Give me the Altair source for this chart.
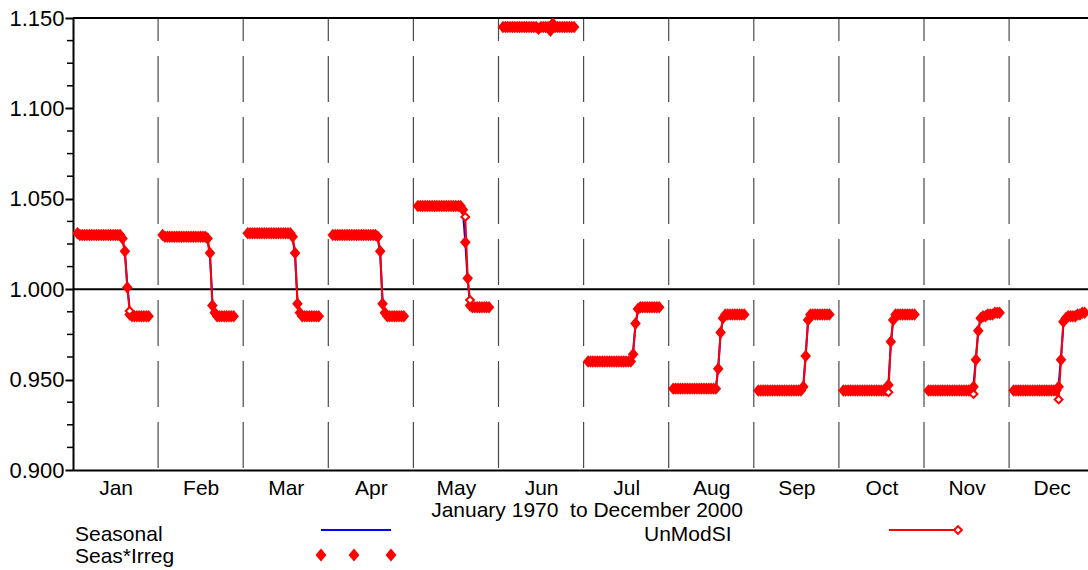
import altair as alt
import pandas as pd

MONTHS = ["Jan", "Feb", "Mar", "Apr", "May", "Jun", "Jul", "Aug", "Sep", "Oct", "Nov", "Dec"]
YEARS = list(range(1970, 2001))

# Seas*Irreg (SI) values, one per year 1970..2000, for each month
si_jan = [1.031, 1.030, 1.030, 1.030, 1.030, 1.030, 1.030, 1.030, 1.030, 1.030,
          1.030, 1.030, 1.030, 1.030, 1.030, 1.030, 1.030, 1.030, 1.030, 1.028,
          1.021, 1.001, 0.986, 0.985, 0.985, 0.985, 0.985, 0.985, 0.985, 0.985,
          0.985]
si_feb = [1.030, 1.029, 1.029, 1.029, 1.029, 1.029, 1.029, 1.029, 1.029, 1.029,
          1.029, 1.029, 1.029, 1.029, 1.029, 1.029, 1.029, 1.029, 1.029, 1.028,
          1.020, 0.991, 0.987, 0.985, 0.985, 0.985, 0.985, 0.985, 0.985, 0.985,
          0.985]
si_mar = [1.031, 1.031, 1.031, 1.031, 1.031, 1.031, 1.031, 1.031, 1.031, 1.031,
          1.031, 1.031, 1.031, 1.031, 1.031, 1.031, 1.031, 1.031, 1.031, 1.029,
          1.020, 0.992, 0.987, 0.985, 0.985, 0.985, 0.985, 0.985, 0.985, 0.985,
          0.985]
si_apr = [1.030, 1.030, 1.030, 1.030, 1.030, 1.030, 1.030, 1.030, 1.030, 1.030,
          1.030, 1.030, 1.030, 1.030, 1.030, 1.030, 1.030, 1.030, 1.030, 1.029,
          1.021, 0.992, 0.987, 0.985, 0.985, 0.985, 0.985, 0.985, 0.985, 0.985,
          0.985]
si_may = [1.046, 1.046, 1.046, 1.046, 1.046, 1.046, 1.046, 1.046, 1.046, 1.046,
          1.046, 1.046, 1.046, 1.046, 1.046, 1.046, 1.046, 1.046, 1.046, 1.044,
          1.026, 1.006, 0.991, 0.990, 0.990, 0.990, 0.990, 0.990, 0.990, 0.990,
          0.990]
si_jun = [1.145, 1.145, 1.145, 1.145, 1.145, 1.145, 1.145, 1.145, 1.145, 1.145,
          1.145, 1.145, 1.145, 1.145, 1.145, 1.144, 1.145, 1.145, 1.145, 1.145,
          1.143, 1.147, 1.145, 1.145, 1.145, 1.145, 1.145, 1.145, 1.145, 1.145,
          1.145]
si_jul = [0.960, 0.960, 0.960, 0.960, 0.960, 0.960, 0.960, 0.960, 0.960, 0.960,
          0.960, 0.960, 0.960, 0.960, 0.960, 0.960, 0.960, 0.960, 0.960, 0.964,
          0.981, 0.989, 0.990, 0.990, 0.990, 0.990, 0.990, 0.990, 0.990, 0.990,
          0.990]
si_aug = [0.945, 0.945, 0.945, 0.945, 0.945, 0.945, 0.945, 0.945, 0.945, 0.945,
          0.945, 0.945, 0.945, 0.945, 0.945, 0.945, 0.945, 0.945, 0.945, 0.956,
          0.976, 0.984, 0.986, 0.986, 0.986, 0.986, 0.986, 0.986, 0.986, 0.986,
          0.986]
si_sep = [0.944, 0.944, 0.944, 0.944, 0.944, 0.944, 0.944, 0.944, 0.944, 0.944,
          0.944, 0.944, 0.944, 0.944, 0.944, 0.944, 0.944, 0.944, 0.944, 0.946,
          0.963, 0.983, 0.986, 0.986, 0.986, 0.986, 0.986, 0.986, 0.986, 0.986,
          0.986]
si_oct = [0.944, 0.944, 0.944, 0.944, 0.944, 0.944, 0.944, 0.944, 0.944, 0.944,
          0.944, 0.944, 0.944, 0.944, 0.944, 0.944, 0.944, 0.944, 0.944, 0.947,
          0.971, 0.983, 0.986, 0.986, 0.986, 0.986, 0.986, 0.986, 0.986, 0.986,
          0.986]
si_nov = [0.944, 0.944, 0.944, 0.944, 0.944, 0.944, 0.944, 0.944, 0.944, 0.944,
          0.944, 0.944, 0.944, 0.944, 0.944, 0.944, 0.944, 0.944, 0.944, 0.946,
          0.961, 0.977, 0.984, 0.985, 0.985, 0.986, 0.986, 0.986, 0.987, 0.987,
          0.987]
si_dec = [0.944, 0.944, 0.944, 0.944, 0.944, 0.944, 0.944, 0.944, 0.944, 0.944,
          0.944, 0.944, 0.944, 0.944, 0.944, 0.944, 0.944, 0.944, 0.944, 0.946,
          0.961, 0.982, 0.984, 0.985, 0.985, 0.985, 0.985, 0.986, 0.986, 0.987,
          0.987]

# Seasonal factors
sf_jan = [1.030, 1.030, 1.030, 1.030, 1.030, 1.030, 1.030, 1.030, 1.030, 1.030,
          1.030, 1.030, 1.030, 1.030, 1.030, 1.030, 1.030, 1.030, 1.030, 1.028,
          1.020, 1.003, 0.989, 0.985, 0.985, 0.985, 0.985, 0.985, 0.985, 0.985,
          0.985]
sf_feb = [1.029, 1.029, 1.029, 1.029, 1.029, 1.029, 1.029, 1.029, 1.029, 1.029,
          1.029, 1.029, 1.029, 1.029, 1.029, 1.029, 1.029, 1.029, 1.029, 1.027,
          1.018, 0.994, 0.987, 0.985, 0.985, 0.985, 0.985, 0.985, 0.985, 0.985,
          0.985]
sf_mar = [1.031, 1.031, 1.031, 1.031, 1.031, 1.031, 1.031, 1.031, 1.031, 1.031,
          1.031, 1.031, 1.031, 1.031, 1.031, 1.031, 1.031, 1.031, 1.031, 1.028,
          1.018, 0.994, 0.987, 0.985, 0.985, 0.985, 0.985, 0.985, 0.985, 0.985,
          0.985]
sf_apr = [1.030, 1.030, 1.030, 1.030, 1.030, 1.030, 1.030, 1.030, 1.030, 1.030,
          1.030, 1.030, 1.030, 1.030, 1.030, 1.030, 1.030, 1.030, 1.030, 1.028,
          1.019, 0.994, 0.987, 0.985, 0.985, 0.985, 0.985, 0.985, 0.985, 0.985,
          0.985]
sf_may = [1.046, 1.046, 1.046, 1.046, 1.046, 1.046, 1.046, 1.046, 1.046, 1.046,
          1.046, 1.046, 1.046, 1.046, 1.046, 1.046, 1.046, 1.046, 1.046, 1.043,
          1.026, 1.005, 0.992, 0.990, 0.990, 0.990, 0.990, 0.990, 0.990, 0.990,
          0.990]
sf_jun = [1.145, 1.145, 1.145, 1.145, 1.145, 1.145, 1.145, 1.145, 1.145, 1.145,
          1.145, 1.145, 1.145, 1.145, 1.145, 1.145, 1.145, 1.145, 1.145, 1.145,
          1.145, 1.145, 1.145, 1.145, 1.145, 1.145, 1.145, 1.145, 1.145, 1.145,
          1.145]
sf_jul = [0.960, 0.960, 0.960, 0.960, 0.960, 0.960, 0.960, 0.960, 0.960, 0.960,
          0.960, 0.960, 0.960, 0.960, 0.960, 0.960, 0.960, 0.960, 0.960, 0.966,
          0.980, 0.988, 0.990, 0.990, 0.990, 0.990, 0.990, 0.990, 0.990, 0.990,
          0.990]
sf_aug = [0.945, 0.945, 0.945, 0.945, 0.945, 0.945, 0.945, 0.945, 0.945, 0.945,
          0.945, 0.945, 0.945, 0.945, 0.945, 0.945, 0.945, 0.945, 0.945, 0.957,
          0.975, 0.984, 0.986, 0.986, 0.986, 0.986, 0.986, 0.986, 0.986, 0.986,
          0.986]
sf_sep = [0.944, 0.944, 0.944, 0.944, 0.944, 0.944, 0.944, 0.944, 0.944, 0.944,
          0.944, 0.944, 0.944, 0.944, 0.944, 0.944, 0.944, 0.944, 0.944, 0.947,
          0.964, 0.982, 0.986, 0.986, 0.986, 0.986, 0.986, 0.986, 0.986, 0.986,
          0.986]
sf_oct = [0.944, 0.944, 0.944, 0.944, 0.944, 0.944, 0.944, 0.944, 0.944, 0.944,
          0.944, 0.944, 0.944, 0.944, 0.944, 0.944, 0.944, 0.944, 0.944, 0.948,
          0.969, 0.983, 0.986, 0.986, 0.986, 0.986, 0.986, 0.986, 0.986, 0.986,
          0.986]
sf_nov = [0.944, 0.944, 0.944, 0.944, 0.944, 0.944, 0.944, 0.944, 0.944, 0.944,
          0.944, 0.944, 0.944, 0.944, 0.944, 0.944, 0.944, 0.944, 0.944, 0.947,
          0.962, 0.977, 0.984, 0.985, 0.985, 0.986, 0.986, 0.986, 0.987, 0.987,
          0.987]
sf_dec = [0.944, 0.944, 0.944, 0.944, 0.944, 0.944, 0.944, 0.944, 0.944, 0.944,
          0.944, 0.944, 0.944, 0.944, 0.944, 0.944, 0.944, 0.944, 0.944, 0.947,
          0.962, 0.980, 0.984, 0.985, 0.985, 0.985, 0.985, 0.986, 0.986, 0.987,
          0.987]

# Unmodified SI values where they differ from the (modified) SI
unmod_month = ["Jan", "May", "May", "Oct", "Nov", "Dec"]
unmod_year = [1992, 1990, 1992, 1989, 1989, 1989]
unmod_value = [0.988, 1.040, 0.994, 0.943, 0.942, 0.939]

Y_TICKS = [0.900, 0.950, 1.000, 1.050, 1.100, 1.150]
Y_MINOR = [0.9125, 0.925, 0.9375, 0.9625, 0.975, 0.9875, 1.0125, 1.025, 1.0375,
           1.0625, 1.075, 1.0875, 1.1125, 1.125, 1.1375]

si_all = [si_jan, si_feb, si_mar, si_apr, si_may, si_jun,
          si_jul, si_aug, si_sep, si_oct, si_nov, si_dec]
sf_all = [sf_jan, sf_feb, sf_mar, sf_apr, sf_may, sf_jun,
          sf_jul, sf_aug, sf_sep, sf_oct, sf_nov, sf_dec]

# ---- build table ----
PANEL_PX = 85.1
rows = []
unmod_lookup = {(m, y): v for m, y, v in zip(unmod_month, unmod_year, unmod_value)}
for mi, mname in enumerate(MONTHS):
    for yi, yr in enumerate(YEARS):
        si_v = si_all[mi][yi]
        um = unmod_lookup.get((mname, yr), si_v)
        rows.append({
            "month": mname,
            "year": yr,
            "pos": mi + (4.5 + yi * 2.37) / PANEL_PX,
            "si": si_v,
            "sf": sf_all[mi][yi],
            "unmod": um,
            "changed": um != si_v,
        })
df = pd.DataFrame(rows)
df_open = df[df["changed"]]

W, H = 1015, 452
FONT = "Liberation Sans"
x_scale = alt.Scale(domain=[0, W / PANEL_PX], nice=False, zero=False)
y_scale = alt.Scale(domain=[0.9, 1.15], nice=False, zero=False)

label_expr = "[" + ",".join("'" + m + "'" for m in MONTHS) + "][floor(datum.value)]"
x_axis = alt.Axis(values=[i + 0.5 for i in range(12)], labelExpr=label_expr, title=None,
                  ticks=False, tickSize=0, domainColor="black", domainWidth=2, grid=False,
                  labelFont=FONT, labelFontSize=21, labelColor="black", labelPadding=24,
                  labelBaseline="alphabetic", labelAlign="center", labelFlush=False,
                  labelOverlap=False)
y_axis = alt.Axis(values=Y_TICKS, format=".3f", title=None, tickSize=8, tickWidth=2,
                  tickColor="black", domainColor="black", domainWidth=2, grid=False,
                  labelFont=FONT, labelFontSize=22, labelColor="black", labelPadding=1,
                  labelFlush=False, labelOverlap=False)

X = lambda f: alt.X(f, type="quantitative", scale=x_scale, axis=x_axis)
Y = lambda f: alt.Y(f, type="quantitative", scale=y_scale, axis=y_axis)

bounds = pd.DataFrame({"b": list(range(1, 12)), "top": [1.15] * 11, "bot": [0.9] * 11})
vlines = alt.Chart(bounds).mark_rule(color="#4a4a4a", strokeWidth=1.2,
                                     strokeDash=[46, 15], strokeDashOffset=23).encode(
    x=X("b"), y=Y("top"), y2="bot")

hl = pd.DataFrame({"v": [1.0, 1.15]})
hlines = alt.Chart(hl).mark_rule(color="black", strokeWidth=2).encode(y=Y("v"))

minor = pd.DataFrame({"v": Y_MINOR})
minor_ticks = alt.Chart(minor).mark_rule(color="black", strokeWidth=1.5).encode(
    y=Y("v"), x=alt.value(-6), x2=alt.value(0))

seasonal = alt.Chart(df).mark_line(color="#0000FF", strokeWidth=2, clip=True).encode(
    x=X("pos"), y=Y("sf"), detail="month:N")
unmod_line = alt.Chart(df).mark_line(color="#FF0000", strokeWidth=2, clip=True).encode(
    x=X("pos"), y=Y("unmod"), detail="month:N")
DIAMOND = "M-0.85,0L0,-1L0.85,0L0,1Z"
si_pts = alt.Chart(df).mark_point(shape=DIAMOND, size=155, filled=True, color="#FF0000",
                                  opacity=1, clip=True).encode(x=X("pos"), y=Y("si"))
open_pts = alt.Chart(df_open).mark_point(shape="diamond", size=60, filled=True, fill="white",
                                         stroke="#FF0000", strokeWidth=2, opacity=1,
                                         clip=True).encode(x=X("pos"), y=Y("unmod"))

one = pd.DataFrame({"k": [0]})
def txt(s, x, y, align="left", size=21):
    return alt.Chart(one).mark_text(text=s, font=FONT, fontSize=size, color="black",
                                    align=align, baseline="alphabetic").encode(
        x=alt.value(x), y=alt.value(y))

title_t = txt("January 1970\u00a0 to December 2000", 514, 499, align="center", size=21)
leg1 = txt("Seasonal", 2, 523)
leg2 = txt("Seas*Irreg", 2, 545)
leg3 = txt("UnModSI", 571, 523)
leg_blue = alt.Chart(one).mark_rule(color="#0000FF", strokeWidth=2).encode(
    x=alt.value(248), x2=alt.value(318), y=alt.value(512))
leg_red = alt.Chart(one).mark_rule(color="#FF0000", strokeWidth=2).encode(
    x=alt.value(816), x2=alt.value(882), y=alt.value(512))
leg_open = alt.Chart(one).mark_point(shape="diamond", size=60, filled=True, fill="white",
                                     stroke="#FF0000", strokeWidth=2, opacity=1).encode(
    x=alt.value(885), y=alt.value(512))
leg_dots = alt.Chart(pd.DataFrame({"px": [248, 281, 318]})).mark_point(
    shape=DIAMOND, size=165, filled=True, color="#FF0000", opacity=1).encode(
    x=alt.X("px:Q", scale=None), y=alt.value(537))

chart = alt.layer(
    vlines, hlines, minor_ticks, seasonal, unmod_line, si_pts, open_pts,
    title_t, leg1, leg2, leg3, leg_blue, leg_red, leg_open, leg_dots,
).properties(
    width=W, height=H,
    padding={"left": 73, "top": 18, "right": 0, "bottom": 100},
    autosize=alt.AutoSizeParams(type="none"),
    background="white",
).configure_view(stroke=None)

chart.save("out.html", embed_options={"renderer": "svg", "actions": False})
